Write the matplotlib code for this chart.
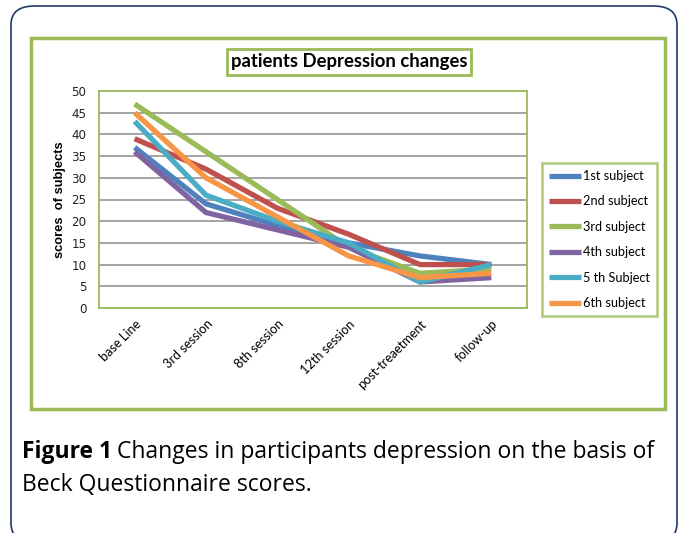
import matplotlib
matplotlib.use("Agg")
import matplotlib.pyplot as plt
from matplotlib.patches import FancyBboxPatch, Rectangle

categories = ["base Line", "3rd session", "8th session", "12th session", "post-treaetment", "follow-up"]
series_names = ["1st subject", "2nd subject", "3rd subject", "4th subject", "5 th Subject", "6th subject"]
s1 = [37, 24, 19, 15, 12, 10]
s2 = [39, 32, 23, 17, 10, 10]
s3 = [47, 36, 25, 14, 8, 9]
s4 = [36, 22, 18, 14, 6, 7]
s5 = [43, 26, 20, 15, 6, 10]
s6 = [45, 30, 21, 12, 7, 8]
series_values = [s1, s2, s3, s4, s5, s6]
colors = ["#4F81BD", "#C0504D", "#9BBB59", "#8064A2", "#4BACC6", "#F79646"]
yticks = [0, 5, 10, 15, 20, 25, 30, 35, 40, 45, 50]

W, H = 679, 533
fig = plt.figure(figsize=(W / 100, H / 100), dpi=100)

def fx(x):
    return x / W

def fy(y):
    return 1 - y / H

green = "#9BBB59"
navy = "#1F3864"

# outer rounded box
outer = FancyBboxPatch((fx(11), fy(542)), fx(677) - fx(11), fy(6) - fy(542),
                       boxstyle="round,pad=0,rounding_size=0.035",
                       transform=fig.transFigure, fill=False, edgecolor=navy, linewidth=1.2)
fig.patches.append(outer)

# chart frame
frame = Rectangle((fx(31), fy(409)), fx(665) - fx(31), fy(38) - fy(409),
                  transform=fig.transFigure, fill=False, edgecolor=green, linewidth=2.5)
fig.patches.append(frame)

ax = fig.add_axes([fx(99), fy(308), fx(527) - fx(99), fy(91) - fy(308)])
x = list(range(len(categories)))
for vals, name, c in zip(series_values, series_names, colors):
    ax.plot(x, vals, color=c, linewidth=3.8, label=name, solid_capstyle="butt", zorder=3)

ax.set_xlim(-0.5, len(categories) - 0.5)
ax.set_ylim(0, 50)
ax.set_yticks(yticks)
ax.set_yticklabels([str(v) for v in yticks], fontsize=8.6, family="DejaVu Sans", color="#222222")
ax.set_xticks(x)
ax.set_xticklabels(categories, rotation=45, ha="right", rotation_mode="anchor",
                   fontsize=9.2, family="Lato")
ax.tick_params(axis="both", length=0)
ax.tick_params(axis="y", pad=9)
ax.tick_params(axis="x", pad=7)
ax.grid(axis="y", color="#8C8C8C", linewidth=1.1)
ax.set_axisbelow(True)
for sp in ax.spines.values():
    sp.set_color(green)
    sp.set_linewidth(1.3)

ax.set_ylabel("scores  of subjects", fontsize=9.3, fontweight="bold", family="Liberation Sans")
ax.yaxis.set_label_coords((66 - 99) / (527 - 99), 0.5)

# title with box
fig.text(fx(349), fy(62), "patients Depression changes", ha="center", va="center",
         fontsize=13.3, fontweight="bold", family="Lato",
         bbox=dict(boxstyle="square,pad=0.22", facecolor="white", edgecolor=green, linewidth=2))

leg = ax.legend(loc="upper left", bbox_to_anchor=(fx(542), fy(163)), bbox_transform=fig.transFigure,
                frameon=True, fancybox=False, prop={"family": "Lato", "size": 9.2},
                handlelength=2.5, handletextpad=0.15, labelspacing=1.05, borderpad=0.55,
                borderaxespad=0)
leg.get_frame().set_edgecolor(green)
leg.get_frame().set_linewidth(1.8)

# caption
cap_size = 16.5
t1 = fig.text(fx(22), fy(452), "Figure 1", ha="left", va="center", fontsize=cap_size,
              fontweight="bold", family="Open Sans")
fig.canvas.draw()
bb = t1.get_window_extent()
fig.text((bb.x1 + 5) / W, fy(452), "Changes in participants depression on the basis of",
         ha="left", va="center", fontsize=cap_size, family="Open Sans")
fig.text(fx(22), fy(485), "Beck Questionnaire scores.", ha="left", va="center",
         fontsize=cap_size, family="Open Sans")

fig.savefig("out.png", dpi=100)
